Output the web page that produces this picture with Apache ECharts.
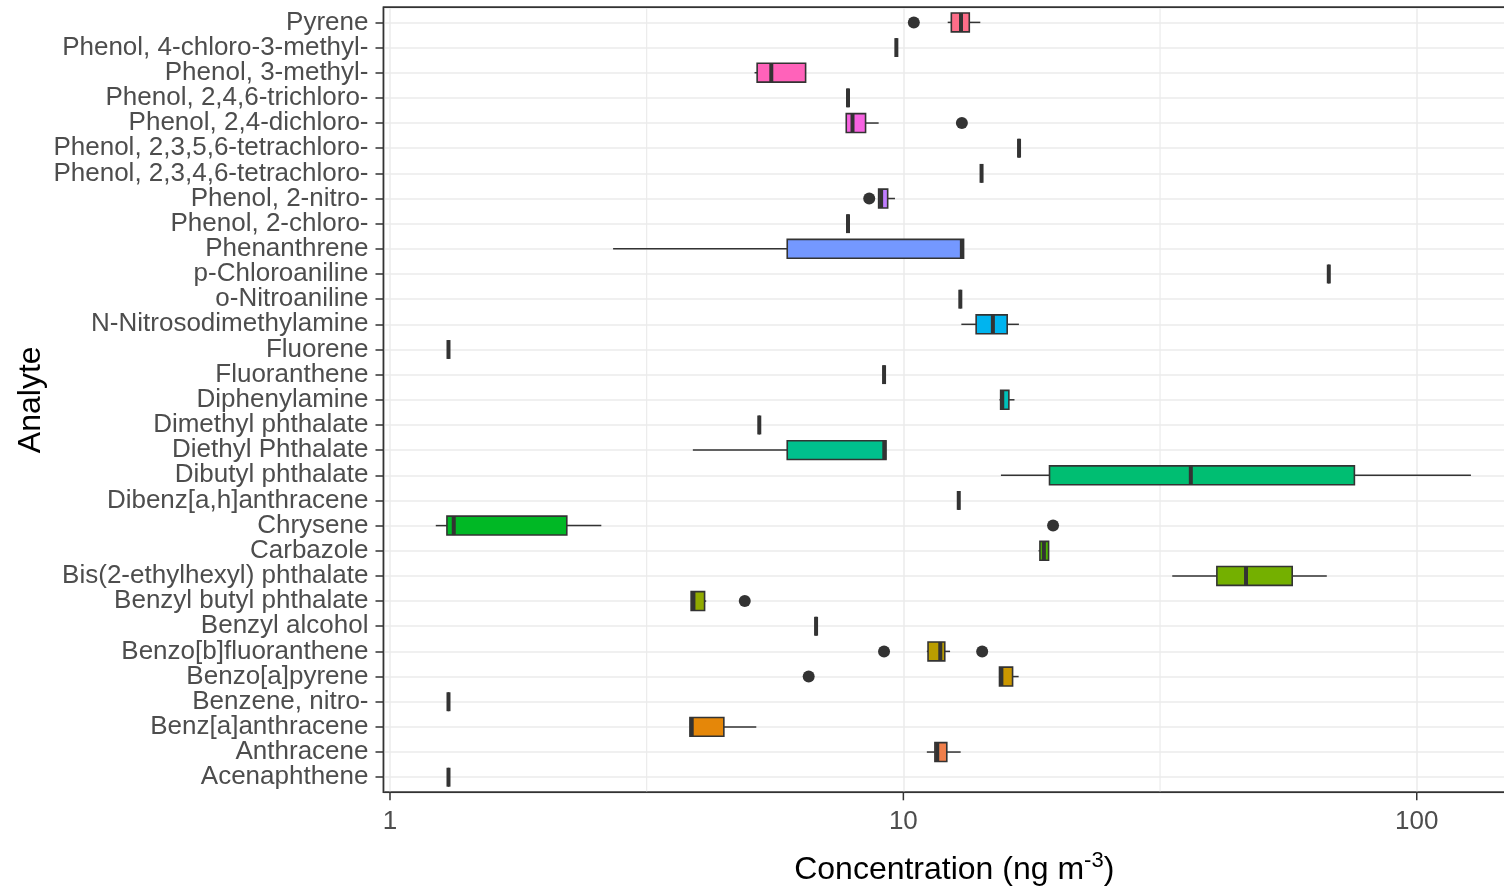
<!DOCTYPE html>
<html><head><meta charset="utf-8">
<script src="https://cdn.jsdelivr.net/npm/echarts@6/dist/echarts.min.js"></script>
<style>html,body{margin:0;padding:0;background:#fff}#chart{width:1504px;height:889px}</style>
</head><body><div id="chart"></div>
<script>
// Categories, bottom (index 0) to top
const categories = ['Acenaphthene','Anthracene','Benz[a]anthracene','Benzene, nitro-','Benzo[a]pyrene','Benzo[b]fluoranthene','Benzyl alcohol','Benzyl butyl phthalate','Bis(2-ethylhexyl) phthalate','Carbazole','Chrysene','Dibenz[a,h]anthracene','Dibutyl phthalate','Diethyl Phthalate','Dimethyl phthalate','Diphenylamine','Fluoranthene','Fluorene','N-Nitrosodimethylamine','o-Nitroaniline','p-Chloroaniline','Phenanthrene','Phenol, 2-chloro-','Phenol, 2-nitro-','Phenol, 2,3,4,6-tetrachloro-','Phenol, 2,3,5,6-tetrachloro-','Phenol, 2,4-dichloro-','Phenol, 2,4,6-trichloro-','Phenol, 3-methyl-','Phenol, 4-chloro-3-methyl-','Pyrene'];

const whiskerLow  = [1.30, 11.11, 3.84, 1.30, 15.39, 11.11, 6.76, 3.86, 33.4, 18.34, 1.228, 12.82, 15.49, 3.89, 5.24, 15.39, 9.17, 1.30, 12.97, 12.91, 67.4, 2.72, 7.80, 8.95, 14.20, 16.8, 7.74, 7.80, 5.13, 9.69, 12.20];
const quartile1   = [1.30, 11.52, 3.84, 1.30, 15.39, 11.17, 6.76, 3.86, 40.8, 18.45, 1.291, 12.82, 19.26, 5.94, 5.24, 15.47, 9.17, 1.30, 13.86, 12.91, 67.4, 5.94, 7.80, 8.95, 14.20, 16.8, 7.74, 7.80, 5.19, 9.69, 12.40];
const medians     = [1.30, 11.64, 3.87, 1.30, 15.52, 11.80, 6.76, 3.90, 46.5, 18.78, 1.331, 12.82, 36.3, 9.18, 5.24, 15.58, 9.17, 1.30, 14.94, 12.91, 67.4, 13.0, 7.80, 9.05, 14.20, 16.8, 7.96, 7.80, 5.53, 9.69, 12.95];
const quartile3   = [1.30, 12.15, 4.47, 1.30, 16.32, 12.04, 6.76, 4.10, 57.2, 19.18, 2.21, 12.82, 75.6, 9.25, 5.24, 16.05, 9.17, 1.30, 15.93, 12.91, 67.4, 13.1, 7.80, 9.32, 14.20, 16.8, 8.44, 7.80, 6.45, 9.69, 13.44];
const whiskerHigh = [1.30, 12.93, 5.17, 1.30, 16.77, 12.33, 6.76, 4.13, 66.8, 19.18, 2.58, 12.82, 127.5, 9.25, 5.24, 16.46, 9.17, 1.30, 16.79, 12.91, 67.4, 13.1, 7.80, 9.63, 14.20, 16.8, 8.95, 7.80, 6.45, 9.69, 14.12];

const outlierCategory = ['Benzo[a]pyrene','Benzo[b]fluoranthene','Benzo[b]fluoranthene','Benzyl butyl phthalate','Chrysene','Phenol, 2-nitro-','Phenol, 2,4-dichloro-','Pyrene'];
const outlierValue    = [6.54, 9.17, 14.24, 4.91, 19.57, 8.58, 13.00, 10.48];

const xTickValues = [1, 10, 100];
const xMinorGrid = [Math.sqrt(10), Math.sqrt(1000)];
const X_MIN = 0.9713, X_MAX = 162.5;

// ggplot2 hue palette
function hcl2hex(h, c, l) {
  const hr = h * Math.PI / 180;
  const U = c * Math.cos(hr), V = c * Math.sin(hr);
  const Xn = 95.047, Yn = 100, Zn = 108.883;
  const Y = l > 7.999592 ? Yn * Math.pow((l + 16) / 116, 3) : Yn * l / 903.3;
  const t = Xn + Yn + Zn, x = Xn / t, y = Yn / t;
  const uN = 2 * x / (6 * y - x + 1.5), vN = 4.5 * y / (6 * y - x + 1.5);
  const u = U / (13 * l) + uN, v = V / (13 * l) + vN;
  const X = 9 * Y * u / (4 * v);
  const Z = -X / 3 - 5 * Y + 3 * Y / v;
  const g = a => { a = a > 0.0031308 ? 1.055 * Math.pow(a, 1 / 2.4) - 0.055 : 12.92 * a; return Math.round(255 * Math.min(1, Math.max(0, a))); };
  const R = g((3.240479 * X - 1.53715 * Y - 0.498535 * Z) / Yn);
  const G = g((-0.969256 * X + 1.875992 * Y + 0.041556 * Z) / Yn);
  const B = g((0.055648 * X - 0.204043 * Y + 1.057311 * Z) / Yn);
  return '#' + [R, G, B].map(n => n.toString(16).padStart(2, '0')).join('');
}
const n = categories.length;
const fills = categories.map((_, i) => hcl2hex(15 + 360 * i / n, 100, 65));

const FONT = "'Liberation Sans', Arial, sans-serif";
const DARK = '#333333';
const Y_MIN = -0.6, Y_MAX = n - 1 + 0.6;
const yTickValues = categories.map((_, i) => i);
// padding values at the axis ends so that no real label is treated as min/max label
const yLabelValues = [Y_MIN].concat(yTickValues, [Y_MAX]);

const boxData = categories.map((_, i) => [whiskerLow[i], i, quartile1[i], medians[i], quartile3[i], whiskerHigh[i]]);
const outlierData = outlierValue.map((v, k) => [v, categories.indexOf(outlierCategory[k])]);

function renderBox(params, api) {
  const lo = api.value(0), i = api.value(1), a = api.value(2), m = api.value(3), b = api.value(4), hi = api.value(5);
  const c = api.coord([m, i]);
  const p1 = api.coord([m, i + 0.375])[1];
  const p2 = api.coord([m, i - 0.375])[1];
  const yt = Math.min(p1, p2), h = Math.abs(p2 - p1);
  const xLo = api.coord([lo, i])[0], xA = api.coord([a, i])[0], xB = api.coord([b, i])[0], xHi = api.coord([hi, i])[0];
  const xM = c[0], y = c[1];
  const ch = [];
  if (xLo < xA - 0.1) ch.push({type: 'line', shape: {x1: xLo, y1: y, x2: xA, y2: y}, style: {stroke: DARK, lineWidth: 1.5}});
  if (xHi > xB + 0.1) ch.push({type: 'line', shape: {x1: xB, y1: y, x2: xHi, y2: y}, style: {stroke: DARK, lineWidth: 1.5}});
  ch.push({type: 'rect', shape: {x: xA, y: yt, width: xB - xA, height: h}, style: {fill: fills[i], stroke: DARK, lineWidth: 1.6}});
  ch.push({type: 'line', shape: {x1: xM, y1: yt, x2: xM, y2: yt + h}, style: {stroke: DARK, lineWidth: 4}});
  return {type: 'group', children: ch};
}

const chart = echarts.init(document.getElementById('chart'), null, {renderer: 'canvas'});
chart.setOption({
  animation: false,
  backgroundColor: '#ffffff',
  grid: {left: 383.5, top: 7.3, width: 1141.5, height: 785, show: true, borderColor: DARK, borderWidth: 1.5,
         backgroundColor: 'transparent', containLabel: false, outerBoundsMode: 'none'},
  xAxis: {
    type: 'log', logBase: 10, min: X_MIN, max: X_MAX,
    axisLine: {show: false}, axisTick: {show: false},
    axisLabel: {
      fontSize: 26, color: '#4D4D4D', margin: 17, fontFamily: FONT,
      formatter: v => { const l = Math.log10(v); return Math.abs(l - Math.round(l)) < 1e-6 ? String(Math.round(v)) : ''; }
    },
    splitLine: {show: true, lineStyle: {color: '#EBEBEB', width: 1.5}},
    name: '{a|Concentration (ng m}{s|-3}{a|)}', nameLocation: 'middle', nameGap: 58, nameMoveOverlap: false,
    nameTextStyle: {rich: {
      a: {fontSize: 32, color: '#000', lineHeight: 40, fontFamily: FONT},
      s: {fontSize: 22, color: '#000', lineHeight: 22, verticalAlign: 'top', fontFamily: FONT}
    }}
  },
  yAxis: {
    type: 'value', min: Y_MIN, max: Y_MAX,
    axisLine: {show: false},
    axisTick: {show: true, length: 8, customValues: yLabelValues, lineStyle: {color: DARK, width: 1.5}},
    axisLabel: {customValues: yLabelValues, showMinLabel: false, showMaxLabel: false, hideOverlap: false,
      lineHeight: 18,
      formatter: v => { const k = Math.round(v); return (Math.abs(v - k) < 1e-6 && categories[k] !== undefined) ? categories[k] : ' '; },
      fontSize: 26, color: '#4D4D4D', margin: 15, fontFamily: FONT},
    splitLine: {show: true, lineStyle: {color: '#EBEBEB', width: 1.5}},
    name: 'Analyte', nameLocation: 'middle', nameRotate: 90, nameGap: 336, nameMoveOverlap: false,
    nameTextStyle: {fontSize: 32, color: '#000', fontFamily: FONT}
  },
  series: [
    {
      type: 'custom', name: 'minorGrid', z: 1, silent: true, clip: false,
      data: xMinorGrid.map(v => [v, Y_MIN]),
      encode: {x: 0, y: 1},
      renderItem: (params, api) => {
        const p = api.coord([api.value(0), Y_MIN]);
        const q = api.coord([api.value(0), Y_MAX]);
        return {type: 'line', shape: {x1: p[0], y1: p[1], x2: q[0], y2: q[1]}, style: {stroke: '#EBEBEB', lineWidth: 1.2}};
      }
    },
    {
      type: 'custom', name: 'panelBorder', z: 2, silent: true, clip: false,
      data: [[X_MIN, Y_MIN, X_MAX, Y_MAX]],
      encode: {x: [0, 2], y: [1, 3]},
      renderItem: (params, api) => {
        const p = api.coord([api.value(0), api.value(1)]);
        const q = api.coord([api.value(2), api.value(3)]);
        return {type: 'rect', shape: {x: p[0], y: q[1], width: q[0] - p[0], height: p[1] - q[1]},
                style: {fill: 'none', stroke: DARK, lineWidth: 1.5}};
      }
    },
    {
      type: 'custom', name: 'xTicks', z: 3, silent: true, clip: false,
      data: xTickValues.map(v => [v, Y_MIN]),
      encode: {x: 0, y: 1},
      renderItem: (params, api) => {
        const p = api.coord([api.value(0), Y_MIN]);
        return {type: 'line', shape: {x1: p[0], y1: p[1], x2: p[0], y2: p[1] + 8}, style: {stroke: DARK, lineWidth: 1.5}};
      }
    },
    {
      type: 'custom', name: 'boxes', z: 4, clip: false,
      data: boxData,
      encode: {x: [0, 2, 3, 4, 5], y: 1},
      renderItem: renderBox
    },
    {
      type: 'scatter', name: 'outliers', z: 5,
      data: outlierData, symbol: 'circle', symbolSize: 12,
      itemStyle: {color: DARK, opacity: 1}
    }
  ]
});
</script></body></html>
